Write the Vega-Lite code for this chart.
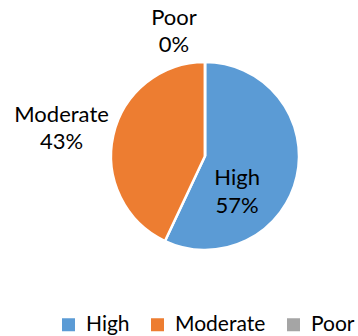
{
  "$schema": "https://vega.github.io/schema/vega-lite/v6.json",
  "autosize": {"type": "none"},
  "width": 306,
  "height": 312,
  "padding": {"left": 52, "top": 0, "right": 0, "bottom": 24},
  "background": "white",
  "data": {"values": [
    {"cat": "High", "value": 57, "pct": "57%"},
    {"cat": "Moderate", "value": 43, "pct": "43%"},
    {"cat": "Poor", "value": 0, "pct": "0%"}
  ]},
  "transform": [{"calculate": "datum.cat + '\\n' + datum.pct", "as": "label"}],
  "encoding": {
    "theta": {"field": "value", "type": "quantitative", "stack": true}
  },
  "layer": [
    {
      "mark": {"type": "arc", "radius": 94, "stroke": "white", "strokeWidth": 2.5},
      "encoding": {
        "color": {
          "field": "cat", "type": "nominal",
          "scale": {"domain": ["High", "Moderate", "Poor"], "range": ["#5B9BD5", "#ED7D31", "#A5A5A5"]},
          "legend": {
            "title": null, "orient": "bottom", "direction": "horizontal",
            "symbolType": "square", "symbolSize": 169, "symbolStrokeWidth": 0,
            "labelFont": "Lato", "labelFontSize": 21, "labelColor": "black",
            "columnPadding": 17, "offset": -4, "labelOffset": 7, "padding": 6
          }
        }
      }
    },
    {
      "mark": {"type": "text", "radius": 35, "dy": 14, "dx": -2, "font": "Lato", "fontSize": 22, "lineBreak": "\n", "lineHeight": 28, "color": "black"},
      "encoding": {"text": {"condition": {"test": "datum.cat === 'High'", "field": "label"}, "value": ""}}
    },
    {
      "mark": {"type": "text", "radius": 148, "dy": -9, "dx": 1, "font": "Lato", "fontSize": 22, "lineBreak": "\n", "lineHeight": 27, "color": "black"},
      "encoding": {"text": {"condition": {"test": "datum.cat === 'Moderate'", "field": "label"}, "value": ""}}
    },
    {
      "mark": {"type": "text", "radius": 126, "dx": -31, "dy": -12, "font": "Lato", "fontSize": 22, "lineBreak": "\n", "lineHeight": 27, "color": "black"},
      "encoding": {"text": {"condition": {"test": "datum.cat === 'Poor'", "field": "label"}, "value": ""}}
    }
  ]
}
